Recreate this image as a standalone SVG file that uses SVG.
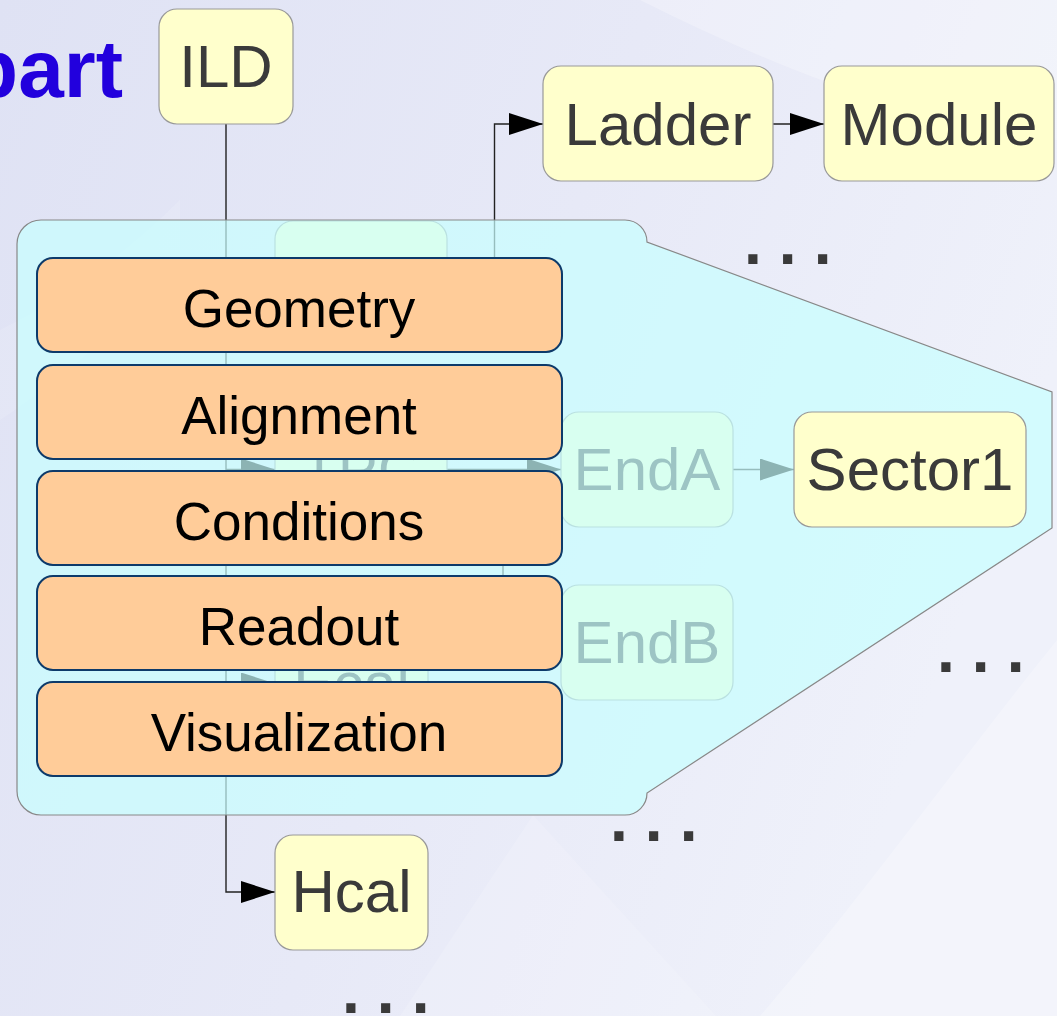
<svg xmlns="http://www.w3.org/2000/svg" width="1057" height="1016" viewBox="0 0 1057 1016">
  <defs>
    <linearGradient id="bg" x1="0" y1="0" x2="1" y2="0.35">
      <stop offset="0" stop-color="#dfe2f4"/>
      <stop offset="0.55" stop-color="#e7e9f7"/>
      <stop offset="1" stop-color="#eff1fa"/>
    </linearGradient>
    <marker id="arr" markerUnits="userSpaceOnUse" markerWidth="34" markerHeight="22" refX="34" refY="11" orient="auto">
      <path d="M0,0 L34,11 L0,22 Z" fill="#000"/>
    </marker>
    <style>
      .node rect { fill: #ffffcc; stroke: #999; stroke-width: 1.2; }
      .node text { font-family: "Liberation Sans", Arial, sans-serif; font-size: 60px; fill: #3a3a3a; text-anchor: middle; }
      .facet rect { fill: #ffcc99; stroke: #0d3a6a; stroke-width: 2; }
      .facet text { font-family: "Liberation Sans", Arial, sans-serif; font-size: 53px; fill: #000; text-anchor: middle; }
      .conn { fill: none; stroke: #222; stroke-width: 1.4; }
      .dots { font-family: "DejaVu Sans", sans-serif; font-weight: bold; font-size: 52px; letter-spacing: -1.5px; fill: #3a3a3a; text-anchor: middle; }
    </style>
  </defs>

  <!-- background -->
  <rect x="0" y="0" width="1057" height="1016" fill="url(#bg)"/>
  <path d="M640,0 C760,60 900,120 1057,140 L1057,0 Z" fill="#ffffff" opacity="0.25"/>
  <path d="M760,1016 C860,900 960,760 1057,640 L1057,1016 Z" fill="#ffffff" opacity="0.25"/>
  <path d="M400,1016 L533,815 L716,1016 Z" fill="#ffffff" opacity="0.15"/>
  <path d="M0,330 C60,300 120,260 180,200 L180,260 C120,330 60,380 0,420 Z" fill="#ffffff" opacity="0.12"/>

  <text x="123" y="97" font-family="Liberation Sans, Arial, sans-serif" font-weight="bold" font-size="82" fill="#2200dd" text-anchor="end">part</text>

  <!-- connectors -->
  <g id="connectors">
    <path class="conn" d="M226,124 L226,892 L275,892" marker-end="url(#arr)"/>
    <path class="conn" d="M226,278 L275,278" marker-end="url(#arr)"/>
    <path class="conn" d="M226,469.5 L275,469.5" marker-end="url(#arr)"/>
    <path class="conn" d="M226,683.5 L275,683.5" marker-end="url(#arr)"/>
    <path class="conn" d="M447,278 L494.5,278 L494.5,124 L543,124" marker-end="url(#arr)"/>
    <path class="conn" d="M773,124 L824,124" marker-end="url(#arr)"/>
    <path class="conn" d="M447,469.5 L561,469.5" marker-end="url(#arr)"/>
    <path class="conn" d="M503,469.5 L503,642.5 L561,642.5" marker-end="url(#arr)"/>
    <path class="conn" d="M733,469.5 L794,469.5" marker-end="url(#arr)"/>
  </g>

  <!-- tree nodes -->
  <g id="ILD" class="node"><rect x="159" y="9" width="134" height="115" rx="18"/><text x="226" y="87">ILD</text></g>
  <g id="VXD" class="node"><rect x="275" y="221" width="172" height="115" rx="18"/><text x="361" y="299">VXD</text></g>
  <g id="TPC" class="node"><rect x="275" y="412" width="172" height="115" rx="18"/><text x="361" y="490">TPC</text></g>
  <g id="Ecal" class="node"><rect x="275" y="626" width="153" height="115" rx="18"/><text x="351.5" y="704">Ecal</text></g>
  <g id="Hcal" class="node"><rect x="275" y="835" width="153" height="115" rx="18"/><text x="351.5" y="912">Hcal</text></g>
  <g id="Ladder" class="node"><rect x="543" y="66" width="230" height="115" rx="18"/><text x="658" y="145">Ladder</text></g>
  <g id="Module" class="node"><rect x="824" y="66" width="230" height="115" rx="18"/><text x="939" y="145">Module</text></g>
  <g id="EndA" class="node"><rect x="561" y="412" width="172" height="115" rx="18"/><text x="647" y="490">EndA</text></g>
  <g id="EndB" class="node"><rect x="561" y="585" width="172" height="115" rx="18"/><text x="647" y="663">EndB</text></g>

  <!-- callout overlay -->
  <g id="callout">
    <path d="M41,220 L625,220 A22,22 0 0 1 647,242 L1052,392 L1052,528 L647,793 A22,22 0 0 1 625,815 L41,815 A24,24 0 0 1 17,791 L17,244 A24,24 0 0 1 41,220 Z" fill="#c7ffff" fill-opacity="0.7" stroke="#888" stroke-width="1.2"/>
  </g>

  <g id="Sector1" class="node"><rect x="794" y="412" width="232" height="115" rx="18"/><text x="910" y="490">Sector1</text></g>

  <!-- facets -->
  <g id="Geometry" class="facet"><rect x="37" y="258" width="525" height="94" rx="16"/><text x="299" y="327">Geometry</text></g>
  <g id="Alignment" class="facet"><rect x="37" y="365" width="525" height="94" rx="16"/><text x="299" y="434">Alignment</text></g>
  <g id="Conditions" class="facet"><rect x="37" y="471" width="525" height="94" rx="16"/><text x="299" y="540">Conditions</text></g>
  <g id="Readout" class="facet"><rect x="37" y="576" width="525" height="94" rx="16"/><text x="299" y="645">Readout</text></g>
  <g id="Visualization" class="facet"><rect x="37" y="682" width="525" height="94" rx="16"/><text x="299" y="751">Visualization</text></g>

  <!-- ellipses -->
  <text class="dots" x="787" y="264">. . .</text>
  <text class="dots" x="980" y="672">. . .</text>
  <text class="dots" x="653" y="841">. . .</text>
  <text class="dots" x="385" y="1013">. . .</text>
</svg>
